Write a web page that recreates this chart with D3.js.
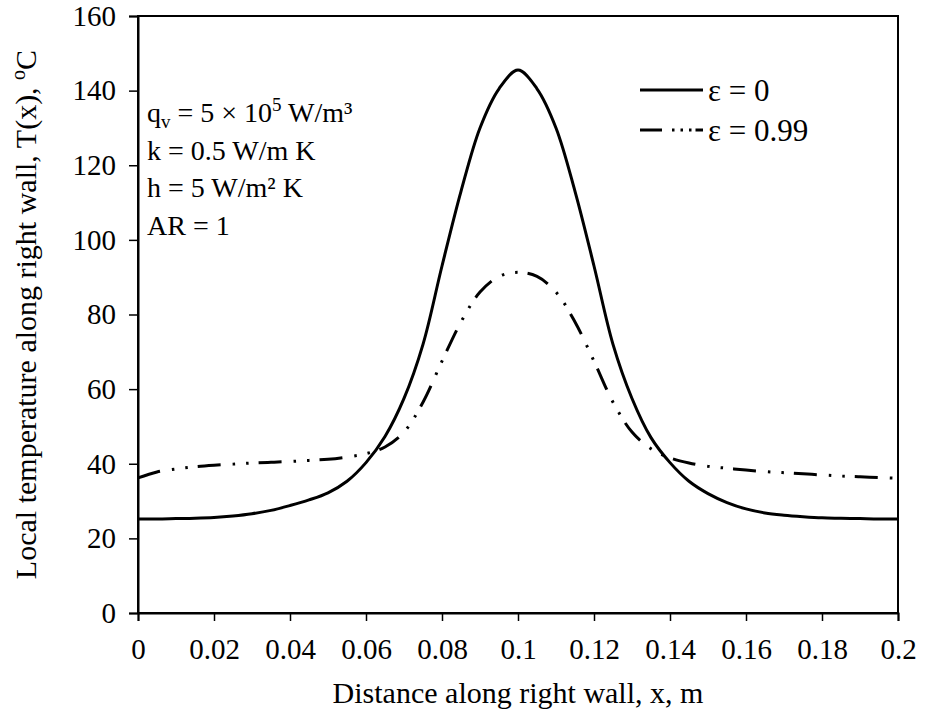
<!DOCTYPE html>
<html><head><meta charset="utf-8">
<script src="https://cdn.jsdelivr.net/npm/d3@7"></script>
<style>body{margin:0;background:#fff}svg{display:block}text{font-family:"Liberation Serif","Times New Roman",serif;fill:#000}</style>
</head><body><div id="chart"></div>
<script>
const xTicks = [0,0.02,0.04,0.06,0.08,0.1,0.12,0.14,0.16,0.18,0.2];
const yTicks = [0,20,40,60,80,100,120,140,160];
const xVals = [0,0.005,0.01,0.015,0.02,0.025,0.03,0.035,0.04,0.045,0.05,0.055,0.06,0.065,0.07,0.075,0.08,0.085,0.09,0.095,0.1,0.105,0.11,0.115,0.12,0.125,0.13,0.135,0.14,0.145,0.15,0.155,0.16,0.165,0.17,0.175,0.18,0.185,0.19,0.195,0.2];
const tEps0 = [25.2,25.2,25.3,25.4,25.6,26.0,26.6,27.5,28.8,30.3,32.2,35.3,40.3,47.3,57.5,72.0,93.0,113.0,130.0,140.5,145.5,140.5,130.0,113.0,93.0,72.0,57.5,47.0,40.3,35.3,32.0,29.6,27.9,26.8,26.2,25.8,25.5,25.4,25.3,25.2,25.2];
const tEps99 = [36.2,37.8,38.6,39.2,39.6,39.9,40.2,40.4,40.6,40.9,41.2,41.8,42.7,44.5,48.5,56.5,67.5,78.0,86.0,90.2,91.3,90.2,86.0,78.0,67.5,56.5,48.5,44.0,41.6,40.2,39.3,38.8,38.3,37.9,37.6,37.3,37.0,36.7,36.5,36.3,36.1];
const seriesNames = ["ε = 0","ε = 0.99"];
const annot = ["k = 0.5 W/m K","h = 5 W/m² K","AR = 1"];

const W=926,H=719, m={l:138,r:28,t:16,b:106};
const svg=d3.select("#chart").append("svg").attr("width",W).attr("height",H);
const x=d3.scaleLinear().domain([0,0.2]).range([m.l,W-m.r]);
const y=d3.scaleLinear().domain([0,160]).range([H-m.b,m.t]);

svg.append("rect").attr("x",m.l).attr("y",m.t).attr("width",W-m.r-m.l).attr("height",H-m.b-m.t)
  .attr("fill","none").attr("stroke","#000").attr("stroke-width",2);

const xa=svg.append("g").attr("transform",`translate(0,${H-m.b})`)
  .call(d3.axisBottom(x).tickValues(xTicks).tickSize(8).tickPadding(17).tickFormat(d=>String(+d.toFixed(2))));
const ya=svg.append("g").attr("transform",`translate(${m.l},0)`)
  .call(d3.axisLeft(y).tickValues(yTicks).tickSize(9).tickPadding(13));
[xa,ya].forEach(a=>{a.select(".domain").attr("stroke-width",2);a.selectAll(".tick line").attr("stroke-width",1.5);
  a.selectAll("text").style("font-family","Liberation Serif").style("font-size","29px").attr("fill","#000");});

const line=(vals)=>d3.line().x((d,i)=>x(xVals[i])).y(d=>y(d)).curve(d3.curveCatmullRom.alpha(0.5))(vals);
svg.append("path").attr("d",line(tEps0)).attr("fill","none").attr("stroke","#000").attr("stroke-width",3);
svg.append("path").attr("d",line(tEps99)).attr("fill","none").attr("stroke","#000").attr("stroke-width",3).attr("stroke-dasharray","23,12,2.5,11,2.5,10");

// legend
const lg=svg.append("g").style("font-size","31px");
lg.append("line").attr("x1",640).attr("x2",703).attr("y1",90).attr("y2",90).attr("stroke","#000").attr("stroke-width",3);
lg.append("text").attr("x",708).attr("y",101).text(seriesNames[0]);
lg.append("line").attr("x1",640).attr("x2",703).attr("y1",130).attr("y2",130).attr("stroke","#000").attr("stroke-width",3).attr("stroke-dasharray","22,10,2.5,6,2.5,6,2.5,4,20");
lg.append("text").attr("x",708).attr("y",141).text(seriesNames[1]);

// annotation
const an=svg.append("g").style("font-size","28px");
const t1=an.append("text").attr("x",147).attr("y",122);
t1.append("tspan").text("q");
t1.append("tspan").attr("dy",6).style("font-size","19px").text("v");
t1.append("tspan").attr("dy",-6).text(" = 5 × 10");
t1.append("tspan").attr("dy",-11).style("font-size","19px").text("5");
t1.append("tspan").attr("dy",11).text(" W/m³");
annot.forEach((s,i)=>an.append("text").attr("x",147).attr("y",160+i*37.3).text(s));

// axis titles
svg.append("text").attr("x",(m.l+W-m.r)/2).attr("y",703).attr("text-anchor","middle").style("font-size","30px").text("Distance along right wall, x, m");
const yt=svg.append("text").attr("transform",`translate(36,${(m.t+H-m.b)/2}) rotate(-90)`).attr("text-anchor","middle").style("font-size","30px");
yt.append("tspan").text("Local temperature along right wall, T(x), ");
yt.append("tspan").attr("dy",-11).style("font-size","20px").text("o");
yt.append("tspan").attr("dy",11).text("C");
</script></body></html>
